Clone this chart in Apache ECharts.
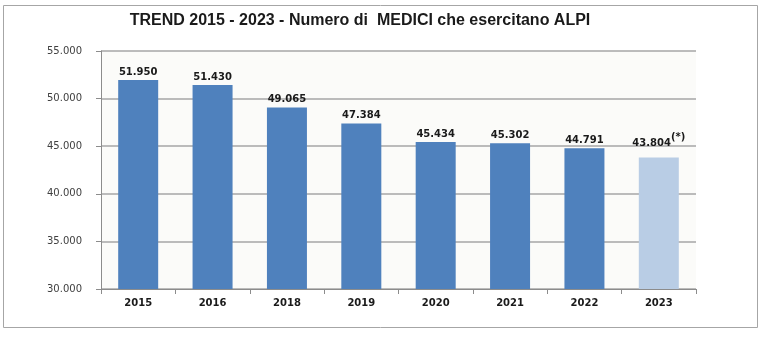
<!DOCTYPE html>
<html>
<head>
<meta charset="utf-8">
<script src="https://cdn.jsdelivr.net/npm/echarts@6/dist/echarts.min.js"></script>
<style>
  html, body { margin: 0; padding: 0; background: #fff; }
  #chart { width: 763px; height: 353px; }
</style>
</head>
<body>
<div id="chart"></div>
<script>
const anni = ['2015', '2016', '2018', '2019', '2020', '2021', '2022', '2023']
const medici = [51950, 51430, 49065, 47384, 45434, 45302, 44791, 43804]
const yTicks = [30000, 35000, 40000, 45000, 50000, 55000]

// numeri con il punto come separatore delle migliaia
function fmt(v) {
  return String(v).replace(/\B(?=(\d{3})+(?!\d))/g, '.')
}

const chart = echarts.init(document.getElementById('chart'))
const last = anni.length - 1

chart.setOption({
  backgroundColor: '#fff',
  animation: false,
  title: {
    text: 'TREND 2015 - 2023 - Numero di  MEDICI che esercitano ALPI',
    left: 355,
    textAlign: 'center',
    top: 8,
    textStyle: {
      fontFamily: 'Liberation Sans',
      fontWeight: 'bold',
      fontSize: 16,
      color: '#1a1a1a'
    }
  },
  graphic: [{
    type: 'rect',
    shape: { x: 3.5, y: 5.5, width: 754, height: 322 },
    style: { fill: 'none', stroke: '#a6a6a6', lineWidth: 1 },
    z: -1
  }],
  grid: {
    left: 101,
    right: 67,
    top: 51,
    bottom: 64,
    show: true,
    backgroundColor: '#fbfbf9',
    borderWidth: 0
  },
  xAxis: {
    type: 'category',
    data: anni,
    axisLine: { lineStyle: { color: '#8c8c8c' } },
    axisTick: { show: true, length: 5, lineStyle: { color: '#8c8c8c' } },
    axisLabel: {
      margin: 9,
      fontFamily: 'DejaVu Sans',
      fontWeight: 'bold',
      fontSize: 10,
      color: '#1a1a1a'
    }
  },
  yAxis: {
    type: 'value',
    min: yTicks[0],
    max: yTicks[yTicks.length - 1],
    interval: 5000,
    axisLine: { show: true, lineStyle: { color: '#8c8c8c' } },
    axisTick: { show: true, length: 5, lineStyle: { color: '#8c8c8c' } },
    splitLine: { lineStyle: { color: '#a6a6a6', width: 1.5 } },
    axisLabel: {
      margin: 19,
      fontFamily: 'DejaVu Sans',
      fontSize: 10,
      color: '#404040',
      formatter: fmt
    }
  },
  series: [{
    type: 'bar',
    barWidth: 40,
    data: medici.map((v, i) => ({
      value: v,
      itemStyle: { color: i === last ? '#b9cde5' : '#4f81bd' }
    })),
    label: {
      show: true,
      position: 'top',
      distance: 3,
      fontFamily: 'DejaVu Sans',
      fontWeight: 'bold',
      fontSize: 10,
      color: '#1a1a1a',
      formatter: p => p.dataIndex === last
        ? '{v|' + fmt(p.value) + '}{s|(*)}'
        : fmt(p.value),
      rich: {
        v: { fontFamily: 'DejaVu Sans', fontWeight: 'bold', fontSize: 10, color: '#1a1a1a' },
        s: { fontFamily: 'DejaVu Sans', fontWeight: 'bold', fontSize: 10, color: '#1a1a1a', padding: [0, 0, 12, 0] }
      }
    }
  }]
})
</script>
</body>
</html>
